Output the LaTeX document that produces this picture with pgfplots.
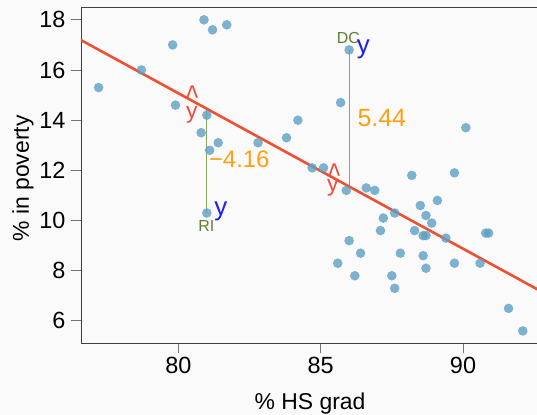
\documentclass[border=0pt]{standalone}
\usepackage{fontspec}
\setmainfont{Liberation Sans}
\usepackage{pgfplots}
\pgfplotsset{compat=1.18}
\definecolor{bg}{RGB}{250,250,250}
\definecolor{ptcol}{RGB}{94,160,197}
\definecolor{fitcol}{RGB}{240,80,50}
\definecolor{residcol}{RGB}{140,165,95}
\definecolor{labcol}{RGB}{95,125,50}
\definecolor{numcol}{RGB}{255,160,20}
\definecolor{ycol}{RGB}{30,30,240}
\definecolor{yhatcol}{RGB}{240,75,60}

\begin{document}
\begin{tikzpicture}
\fill[bg] (-81bp,-72bp) rectangle (456bp,343bp);
\useasboundingbox (-81bp,-72bp) rectangle (456bp,343bp);
\begin{axis}[
  at={(0,0)}, anchor=south west,
  scale only axis, width=460bp, height=336bp,
  xmin=76.58, xmax=92.74, ymin=5.12, ymax=18.51,
  xtick={80,85,90}, ytick={6,8,10,12,14,16,18},
  xtick pos=bottom, ytick pos=left,
  tick align=outside, major tick length=10bp,
  axis line style={black!75, line width=0.9bp},
  tick style={black!55, line width=0.9bp},
  /pgf/number format/assume math mode=true,
  tick label style={font=\fontsize{23.5}{23.5}\selectfont},
  xticklabel style={yshift=-1bp},
  yticklabel style={xshift=-2bp},
  xlabel={\% HS grad}, ylabel={\% in poverty},
  label style={font=\fontsize{23}{23}\selectfont},
  xlabel style={at={(axis description cs:0.498,0)}, anchor=base, yshift=-66bp},
  ylabel style={at={(axis description cs:0,0.49)}, anchor=base, yshift=52bp},
]
% states: % HS grad vs % in poverty
\addplot[only marks, mark=*, mark size=4.8bp, color=ptcol,
  mark options={draw opacity=0, fill=ptcol, fill opacity=0.8}] coordinates {
  (77.2,15.3) (78.7,16.0) (79.8,17.0) (80.9,18.0) (81.2,17.6) (81.7,17.8)
  (79.9,14.6) (81.0,14.2) (80.8,13.5) (81.4,13.1) (81.1,12.8) (82.8,13.1)
  (81.0,10.3) (86.0,16.8) (85.7,14.7) (84.2,14.0) (83.8,13.3) (84.7,12.1)
  (85.1,12.1) (85.9,11.2) (86.6,11.3) (86.9,11.2) (88.2,11.8) (89.7,11.9)
  (90.1,13.7) (88.5,10.6) (89.1,10.8) (87.6,10.3) (87.2,10.1) (88.7,10.2)
  (88.9,9.9) (87.1,9.6) (88.3,9.6) (88.6,9.4) (88.7,9.4) (89.4,9.3)
  (90.8,9.5) (90.9,9.5) (86.0,9.2) (86.4,8.7) (87.8,8.7) (88.6,8.6)
  (85.6,8.3) (89.7,8.3) (90.6,8.3) (88.7,8.1) (86.2,7.8) (87.5,7.8)
  (87.6,7.3) (91.6,6.5) (92.1,5.6)
};
% residuals
\addplot[residcol, line width=1bp] coordinates {(81.0,10.3) (81.0,14.46)};
\addplot[residcol, line width=1bp] coordinates {(86.0,16.8) (86.0,11.36)};
% least squares line
\addplot[fitcol, line width=2.6bp] coordinates {(76,17.55) (93.5,6.71)};

\node[labcol, font=\fontsize{16}{16}\selectfont, inner sep=0, anchor=base] at (axis cs:85.97,17.06) {DC};
\node[labcol, font=\fontsize{16}{16}\selectfont, inner sep=0, anchor=base] at (axis cs:80.98,9.56) {RI};
\node[ycol, font=\fontsize{26}{26}\selectfont, inner sep=0, anchor=base] at (axis cs:86.5,16.65) {y};
\node[ycol, font=\fontsize{26}{26}\selectfont, inner sep=0, anchor=base] at (axis cs:81.49,10.19) {y};
\node[yhatcol, font=\fontsize{23}{23}\selectfont, inner sep=0, anchor=base] at (axis cs:80.47,14.08) {y};
\node[yhatcol, font=\fontsize{23}{23}\selectfont, inner sep=0, yscale=1.5, xscale=1.1] at (axis cs:80.49,14.88) {\textasciicircum};
\node[yhatcol, font=\fontsize{23}{23}\selectfont, inner sep=0, anchor=base] at (axis cs:85.43,11.15) {y};
\node[yhatcol, font=\fontsize{23}{23}\selectfont, inner sep=0, yscale=1.5, xscale=1.1] at (axis cs:85.48,11.77) {\textasciicircum};
\node[numcol, font=\fontsize{25}{25}\selectfont, inner sep=0, anchor=base west] at (axis cs:86.29,13.76) {5.44};
\node[numcol, font=\fontsize{24}{24}\selectfont, inner sep=0, anchor=base west] at (axis cs:81.07,12.12) {−4.16};
\end{axis}
\end{tikzpicture}
\end{document}
